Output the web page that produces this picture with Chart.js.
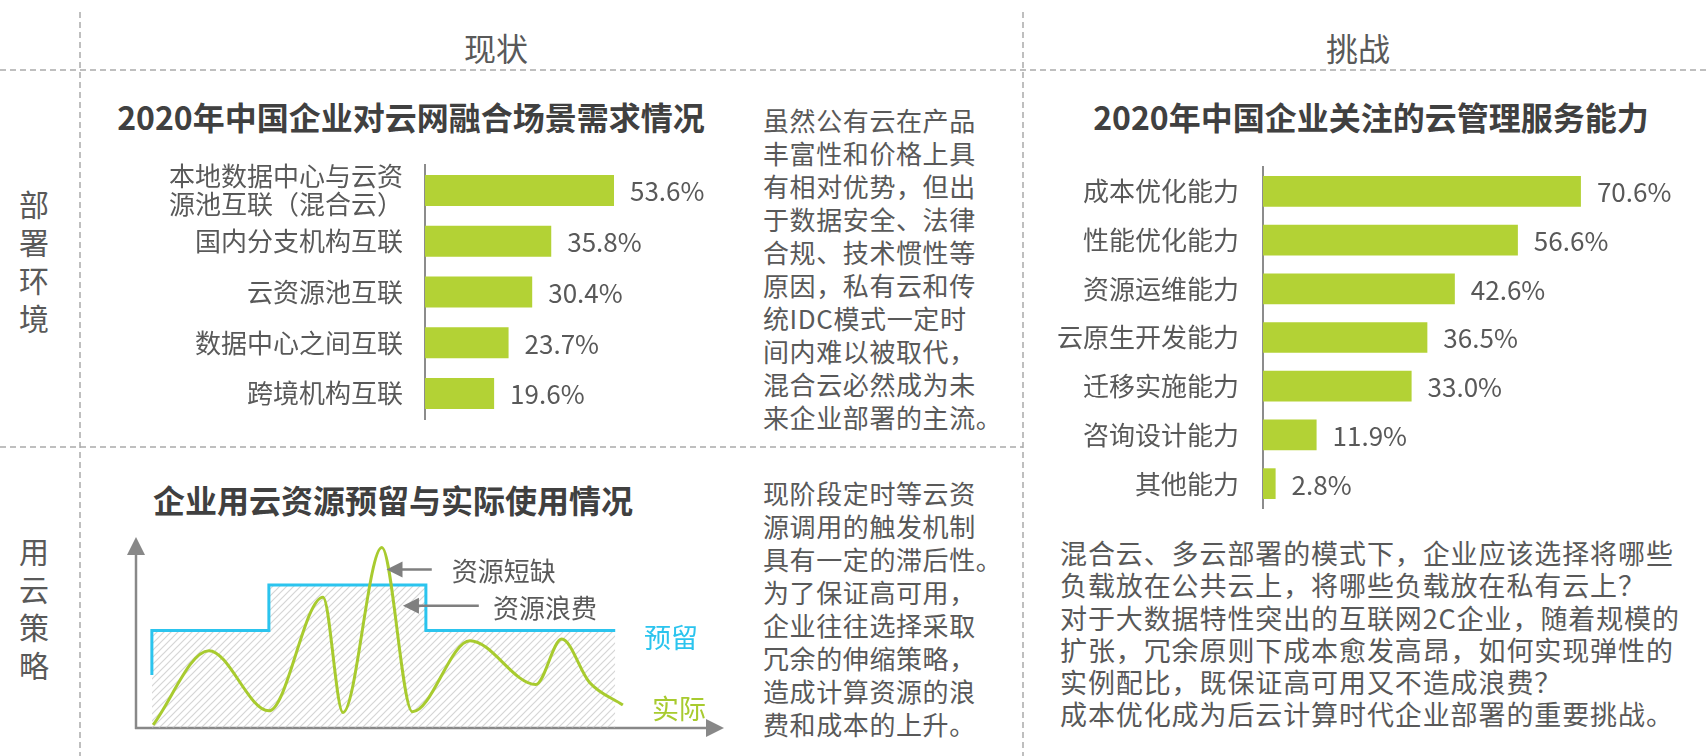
<!DOCTYPE html>
<html lang="zh-CN">
<head>
<meta charset="utf-8">
<script src="https://cdn.jsdelivr.net/npm/chart.js@4.4.1/dist/chart.umd.min.js"></script>
<style>
body { margin: 0; background: #fff; font-family: 'Noto Sans CJK SC', sans-serif; color: #595959; }
#page { position: relative; width: 1707px; height: 756px; overflow: hidden; }
.t { position: absolute; white-space: nowrap; }
.head { font-size: 32px; line-height: 40px; color: #595959; transform: translateX(-50%); }
.title { font-size: 32px; line-height: 40px; font-weight: bold; color: #404040; transform: translateX(-50%); }
.side { font-size: 30px; line-height: 38px; width: 40px; text-align: center; }
.para { font-size: 26px; line-height: 33px; letter-spacing: 0.6px; }
canvas { position: absolute; }
</style>
</head>
<body>
<div id="page">
  <svg width="1707" height="756" style="position:absolute;left:0;top:0">
    <g stroke="#aaaaaa" stroke-width="1.5" stroke-dasharray="6 4" fill="none">
      <line x1="80" y1="12" x2="80" y2="756"/>
      <line x1="1023" y1="12" x2="1023" y2="756"/>
      <line x1="0" y1="70" x2="1707" y2="70"/>
      <line x1="0" y1="447" x2="1023" y2="447"/>
    </g>
  </svg>

  <div class="t head" style="left:496px;top:27px">现状</div>
  <div class="t head" style="left:1358px;top:27px">挑战</div>

  <div class="t side" style="left:14px;top:184px">部<br>署<br>环<br>境</div>
  <div class="t side" style="left:14px;top:531px">用<br>云<br>策<br>略</div>

  <div class="t title" style="left:411px;top:96px">2020年中国企业对云网融合场景需求情况</div>
  <div class="t title" style="left:1371px;top:96px">2020年中国企业关注的云管理服务能力</div>
  <div class="t title" style="left:393px;top:479px">企业用云资源预留与实际使用情况</div>

  <div class="t para" style="left:763px;top:103px">虽然公有云在产品<br>丰富性和价格上具<br>有相对优势，但出<br>于数据安全、法律<br>合规、技术惯性等<br>原因，私有云和传<br>统IDC模式一定时<br>间内难以被取代，<br>混合云必然成为未<br>来企业部署的主流。</div>
  <div class="t para" style="left:763px;top:476px">现阶段定时等云资<br>源调用的触发机制<br>具有一定的滞后性。<br>为了保证高可用，<br>企业往往选择采取<br>冗余的伸缩策略，<br>造成计算资源的浪<br>费和成本的上升。</div>
  <div class="t para" style="left:1060px;top:537px;font-size:27px;letter-spacing:0.9px;line-height:32.3px">混合云、多云部署的模式下，企业应该选择将哪些<br>负载放在公共云上，将哪些负载放在私有云上？<br>对于大数据特性突出的互联网2C企业，随着规模的<br>扩张，冗余原则下成本愈发高昂，如何实现弹性的<br>实例配比，既保证高可用又不造成浪费？<br>成本优化成为后云计算时代企业部署的重要挑战。</div>

  <canvas id="graficoCenarios" width="660" height="300" style="left:100px;top:140px"></canvas>
  <canvas id="graficoCapacidades" width="667" height="380" style="left:1040px;top:142px"></canvas>
  <canvas id="graficoRecursos" width="640" height="256" style="left:100px;top:500px"></canvas>

  <div class="t" style="left:644px;top:619px;font-size:27px;line-height:36px;color:#2bc4ee">预留</div>
  <div class="t" style="left:652px;top:690px;font-size:27px;line-height:36px;color:#a8cb2f">实际</div>
</div>

<script>
// 2020年中国企业对云网融合场景需求情况
const cenarios = [['本地数据中心与云资', '源池互联（混合云）'], '国内分支机构互联', '云资源池互联', '数据中心之间互联', '跨境机构互联'];
const valoresCenarios = [53.6, 35.8, 30.4, 23.7, 19.6];

// 2020年中国企业关注的云管理服务能力
const capacidades = ['成本优化能力', '性能优化能力', '资源运维能力', '云原生开发能力', '迁移实施能力', '咨询设计能力', '其他能力'];
const valoresCapacidades = [70.6, 56.6, 42.6, 36.5, 33.0, 11.9, 2.8];

// 预留 (step line) and 实际 (usage curve), in arbitrary units 0-100
const reservadoX = [2.7, 2.7, 22.6, 22.6, 49.3, 49.3, 81.5];
const reservadoY = [27.7, 51, 51, 74.9, 74.9, 51, 51];
const realX = [2.9, 12.4, 22.6, 31.8, 35.2, 41.8, 47.0, 56.8, 68.0, 72.4, 77.1, 82.8];
const realY = [1.6, 40.5, 9.0, 68.5, 8.1, 94.5, 8.5, 45.7, 22.8, 46.6, 24.0, 12.0];

Chart.defaults.font.family = "'Noto Sans CJK SC', sans-serif";
Chart.defaults.color = '#595959';

const verde = '#b3d235';

const rotulosValores = {
    id: 'rotulosValores',
    afterDatasetsDraw(chart) {
        const ctx = chart.ctx;
        const meta = chart.getDatasetMeta(0);
        const dados = chart.data.datasets[0].data;
        ctx.save();
        ctx.font = "26px 'Noto Sans CJK SC'";
        ctx.fillStyle = '#595959';
        ctx.textBaseline = 'middle';
        meta.data.forEach((barra, i) => {
            ctx.fillText(dados[i].toFixed(1) + '%', barra.x + 16, barra.y + 1);
        });
        ctx.restore();
    }
};

function graficoBarras(id, labels, valores, opcoes) {
    const ctx = document.getElementById(id).getContext('2d');
    return new Chart(ctx, {
        type: 'bar',
        data: {
            labels: labels,
            datasets: [{
                data: valores,
                backgroundColor: verde,
                borderWidth: 0,
                categoryPercentage: 1,
                barPercentage: opcoes.barra
            }]
        },
        options: {
            indexAxis: 'y',
            responsive: false,
            animation: false,
            layout: { padding: { top: 25, bottom: opcoes.baixo, left: 0, right: 0 } },
            plugins: { legend: { display: false }, tooltip: { enabled: false } },
            scales: {
                x: { display: false, min: 0, max: opcoes.max },
                y: {
                    grid: { display: false, drawTicks: false },
                    border: { display: true, color: '#8c8c8c', width: 2 },
                    ticks: { autoSkip: false, padding: opcoes.pad, color: '#595959', font: { size: 26, lineHeight: 1.08 } },
                    afterFit(escala) {
                        escala.width = opcoes.largura;
                        escala.paddingTop = 0;
                        escala.paddingBottom = 0;
                    }
                }
            }
        },
        plugins: [rotulosValores]
    });
}

graficoBarras('graficoCenarios', cenarios, valoresCenarios, { barra: 0.61, baixo: 21, max: 95, pad: 22, largura: 325 });
graficoBarras('graficoCapacidades', capacidades, valoresCapacidades, { barra: 0.63, baixo: 14, max: 98.6, pad: 24, largura: 223 });

// hatch pattern for the reserved area
function hachura() {
    const c = document.createElement('canvas');
    c.width = 7; c.height = 7;
    const g = c.getContext('2d');
    g.strokeStyle = 'rgba(185,185,185,0.6)';
    g.lineWidth = 1.2;
    g.beginPath();
    g.moveTo(-1, 8); g.lineTo(8, -1);
    g.moveTo(-1, 1); g.lineTo(1, -1);
    g.moveTo(6, 8); g.lineTo(8, 6);
    g.stroke();
    return g.createPattern(c, 'repeat');
}

function seta(ctx, x1, y1, x2, y2, tam) {
    const ang = Math.atan2(y2 - y1, x2 - x1);
    ctx.beginPath();
    ctx.moveTo(x1, y1);
    ctx.lineTo(x2 - Math.cos(ang) * tam * 0.8, y2 - Math.sin(ang) * tam * 0.8);
    ctx.stroke();
    ctx.beginPath();
    ctx.moveTo(x2, y2);
    ctx.lineTo(x2 - Math.cos(ang) * tam + Math.sin(ang) * tam * 0.5, y2 - Math.sin(ang) * tam - Math.cos(ang) * tam * 0.5);
    ctx.lineTo(x2 - Math.cos(ang) * tam - Math.sin(ang) * tam * 0.5, y2 - Math.sin(ang) * tam + Math.cos(ang) * tam * 0.5);
    ctx.closePath();
    ctx.fill();
}

const eixosSetas = {
    id: 'eixosSetas',
    beforeDatasetsDraw(chart) {
        const { ctx, scales: { x, y } } = chart;
        const x0 = x.getPixelForValue(0), y0 = y.getPixelForValue(0);
        ctx.save();
        ctx.strokeStyle = '#888888';
        ctx.fillStyle = '#888888';
        ctx.lineWidth = 2.5;
        seta(ctx, x0, y0 + 1, x0, y.getPixelForValue(100), 18);
        seta(ctx, x0 - 1, y0, x.getPixelForValue(100), y0, 18);
        ctx.restore();
    },
    afterDraw(chart) {
        const { ctx, scales: { x, y } } = chart;
        ctx.save();
        ctx.strokeStyle = '#7f7f7f';
        ctx.fillStyle = '#7f7f7f';
        ctx.lineWidth = 2.5;
        seta(ctx, x.getPixelForValue(50.3), y.getPixelForValue(83), x.getPixelForValue(42.6), y.getPixelForValue(83), 16);
        seta(ctx, x.getPixelForValue(58.3), y.getPixelForValue(64), x.getPixelForValue(45.4), y.getPixelForValue(64), 16);
        ctx.font = "26px 'Noto Sans CJK SC'";
        ctx.fillStyle = '#595959';
        ctx.textBaseline = 'middle';
        ctx.fillText('资源短缺', x.getPixelForValue(53.7), y.getPixelForValue(82));
        ctx.fillText('资源浪费', x.getPixelForValue(60.7), y.getPixelForValue(63));
        ctx.restore();
    }
};

const ctxRecursos = document.getElementById('graficoRecursos').getContext('2d');
new Chart(ctxRecursos, {
    type: 'line',
    data: {
        datasets: [{
            label: '实际',
            data: realX.map((v, i) => ({ x: v, y: realY[i] })),
            borderColor: '#a8cb2f',
            borderWidth: 3,
            cubicInterpolationMode: 'monotone',
            fill: false,
            pointRadius: 0
        }, {
            label: '预留',
            data: reservadoX.map((v, i) => ({ x: v, y: reservadoY[i] })),
            borderColor: '#2bc4ee',
            borderWidth: 3,
            tension: 0,
            fill: 'origin',
            backgroundColor: hachura(),
            pointRadius: 0
        }]
    },
    options: {
        responsive: false,
        animation: false,
        layout: { padding: { left: 36, top: 37, right: 16, bottom: 28 } },
        plugins: { legend: { display: false }, tooltip: { enabled: false } },
        scales: {
            x: { type: 'linear', display: false, min: 0, max: 100 },
            y: { display: false, min: 0, max: 100 }
        }
    },
    plugins: [eixosSetas]
});
</script>
</body>
</html>
